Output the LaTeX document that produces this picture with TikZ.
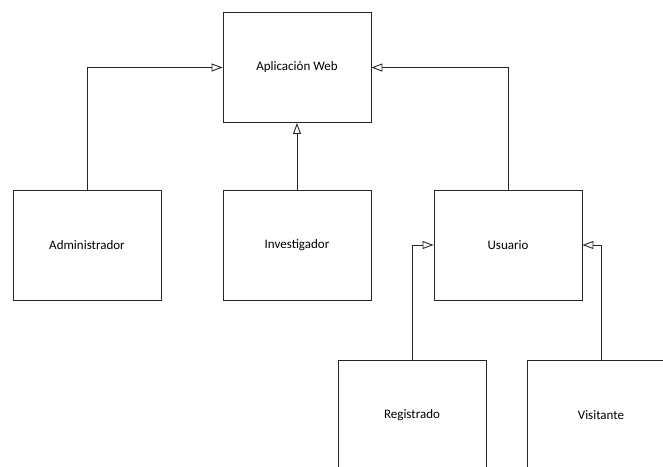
\documentclass[tikz,border=0pt]{standalone}
\usepackage{fontspec}
\setmainfont{Carlito}
\usetikzlibrary{arrows.meta}
\begin{document}
\begin{tikzpicture}[x=1pt,y=-1pt,
  cls/.style={draw=black!85,line width=0.9pt,rectangle,minimum width=148pt,minimum height=110pt,inner sep=0pt,font=\fontsize{13}{15}\selectfont},
  inh/.style={draw=black!85,line width=0.9pt,-{Triangle[open,length=11pt,width=8pt]}}]
\useasboundingbox (0,0) rectangle (663,466);
\clip (0,0) rectangle (663,466);
\node[cls] (app) at (297,67.5) {Aplicación Web};
\node[cls] (adm) at (87,245) {Administrador};
\node[cls] (inv) at (297,245) {Investigador};
\node[cls] (usr) at (508,245) {Usuario};
\node[cls] (reg) at (412,415.5) {Registrado};
\node[cls] (vis) at (601,415.5) {Visitante};
\draw[inh] (adm.north) |- (app.west);
\draw[inh] (inv.north) -- (app.south);
\draw[inh] (usr.north) |- (app.east);
\draw[inh] (reg.north) |- (usr.west);
\draw[inh] (vis.north) |- (usr.east);
\end{tikzpicture}
\end{document}
